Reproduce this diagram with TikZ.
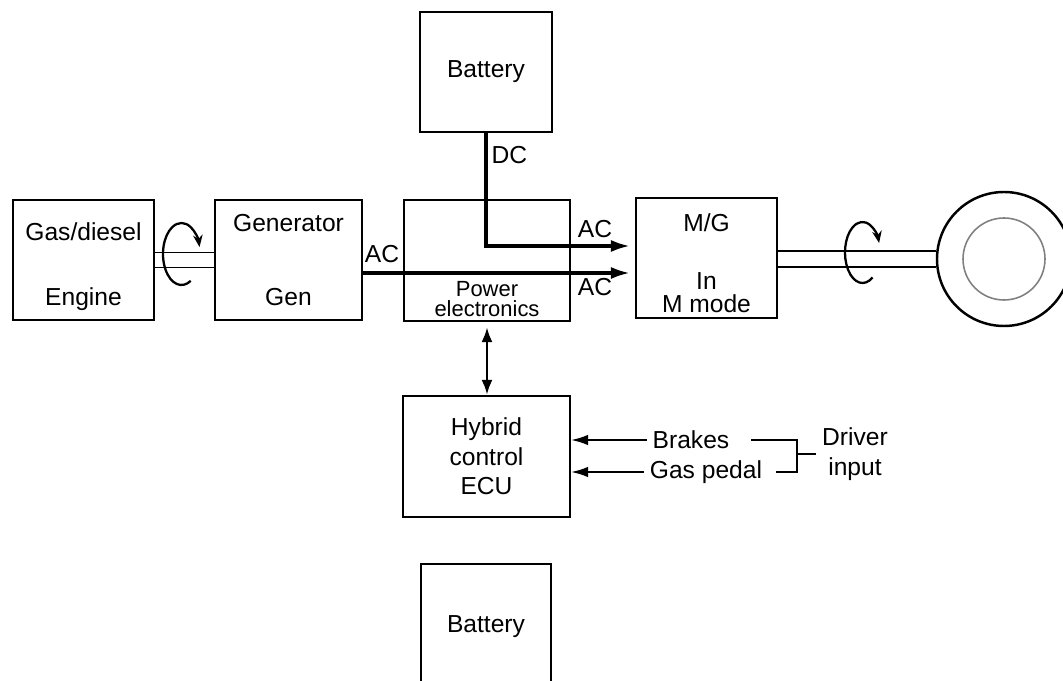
\documentclass[tikz,border=0pt]{standalone}
\usepackage{fontspec}
\setmainfont{Liberation Sans}
\usetikzlibrary{arrows.meta,positioning}
\begin{document}
\begin{tikzpicture}[every node/.style={font=\fontsize{14}{16.8}\selectfont},
    box/.style={draw,line width=1.2pt,align=center,inner sep=0pt},
    power/.style={line width=2.4pt,-{Latex[length=4mm,width=2.4mm]},shorten >=0.08cm},
    sig/.style={line width=1.1pt,-{Latex[length=3.4mm,width=2.1mm]}},
    shaft/.style={line width=1.1pt},
    spin/.style={line width=1.3pt,-{Stealth[length=2.4mm,width=1.9mm]}}]
  \useasboundingbox (0,0) rectangle (21.26,13.62);
  \clip (0,0) rectangle (21.26,13.62);

  % Nodes
  \node[box,minimum width=2.82cm,minimum height=2.4cm] (engine) at (1.67,8.42) {\rule{0pt}{0.64cm}Gas/diesel\\[0.71cm]Engine};
  \node[box,minimum width=2.94cm,minimum height=2.4cm] (gen) at (5.77,8.42) {Generator\\[0.89cm]Gen};
  \node[box,minimum width=3.32cm,minimum height=2.42cm] (pe) at (9.74,8.41) {};
  \node[font=\fontsize{12.5}{11.5}\selectfont,align=center,inner sep=1pt,above=2pt of pe.south] (petext) {Power\\electronics};
  \node[box,minimum width=2.64cm,minimum height=2.4cm] (batt) at (9.72,12.18) {Battery};
  \node[box,minimum width=2.82cm,minimum height=2.4cm] (mg) at (14.13,8.46) {\rule{0pt}{0.55cm}M/G\\[0.57cm]In\\[-0.13cm]M mode};
  \node[draw,circle,line width=1.4pt,minimum size=2.68cm,inner sep=0pt] (wheel) at (20.08,8.44) {};
  \node[draw=gray,circle,line width=0.9pt,minimum size=1.64cm,inner sep=0pt] (hub) at (wheel.center) {};
  \node[box,minimum width=3.34cm,minimum height=2.42cm] (ecu) at (9.73,4.49) {Hybrid\\control\\ECU};
  \node[box,minimum width=2.6cm,minimum height=2.5cm,anchor=north] (batt2) at (9.72,2.36) {\raisebox{0.11cm}{Battery}};

  % Labels
  \node (acgen) at (7.64,8.53) {AC};
  \node (actop) at (11.90,9.04) {AC};
  \node (acbot) at (11.90,7.88) {AC};
  \node (dc) at (10.19,10.52) {DC};
  \node (brakes) at (13.82,4.82) {Brakes};
  \node (gas) at (14.12,4.18) {Gas pedal};
  \node[align=center] (driver) at (17.10,4.54) {Driver\\input};

  % Power flow
  \coordinate (dcin) at ([yshift=0.24cm]mg.west);
  \coordinate (acin) at ([yshift=-0.30cm]mg.west);
  \draw[power] (batt.south) |- (dcin);
  \draw[power] (gen.east |- acin) -- (acin);

  % Shafts
  \draw[shaft] ([yshift=0.15cm]engine.east) -- ([yshift=0.15cm]gen.west);
  \draw[shaft] ([yshift=-0.15cm]engine.east) -- ([yshift=-0.15cm]gen.west);
  \draw[shaft] ([yshift=0.16cm]wheel.west) -- ([yshift=0.16cm]wheel.west -| mg.east);
  \draw[shaft] ([yshift=-0.16cm]wheel.west) -- ([yshift=-0.16cm]wheel.west -| mg.east);
  \draw[spin] (3.63,8.54) ++(-60:0.37 and 0.62) arc[start angle=-60,end angle=-347,x radius=0.37,y radius=0.62];
  \draw[spin] (17.25,8.57) ++(-55:0.35 and 0.61) arc[start angle=-55,end angle=-342,x radius=0.35,y radius=0.61];

  % Control
  \draw[line width=1.6pt,{Latex[length=3mm,width=2.2mm]}-{Latex[length=3mm,width=2.2mm]},shorten <=0.1cm] (pe.south) -- (pe.south |- ecu.north);
  \draw[sig] (brakes.west) -- (ecu.east |- brakes.west);
  \draw[sig] (gas.west) -- (ecu.east |- gas.west);
  \coordinate (join) at (15.94,4.54);
  \draw[line width=1.1pt] ([xshift=0.32cm]brakes.east) -| (join) |- ([xshift=0.16cm]gas.east);
  \draw[line width=1.1pt] (join) -- (driver.west);
\end{tikzpicture}
\end{document}
